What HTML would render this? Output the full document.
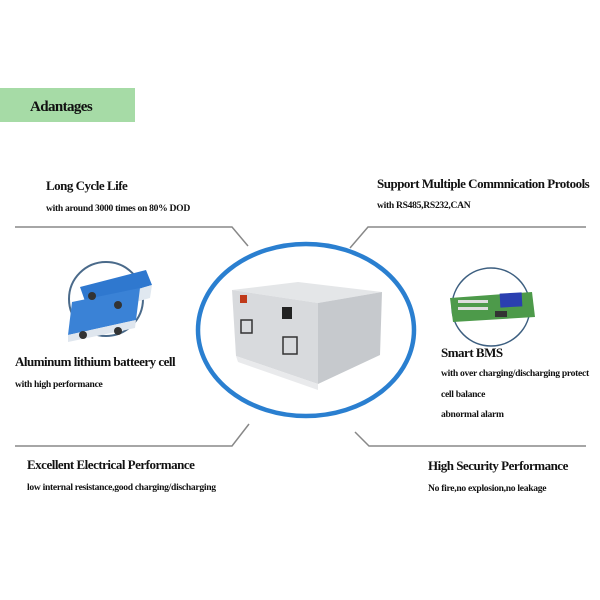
<!DOCTYPE html>
<html><head><meta charset="utf-8"><style>
html,body{margin:0;padding:0;background:#fff;}
svg{display:block}
text{font-family:"Liberation Serif",serif;font-weight:bold;fill:#111;}
.h{font-size:13px;letter-spacing:-0.5px}
.s{font-size:9.6px;letter-spacing:-0.3px}
</style></head><body>
<svg width="600" height="600" viewBox="0 0 600 600" xmlns="http://www.w3.org/2000/svg">
<rect width="600" height="600" fill="#fff"/>
<rect x="0" y="88" width="135" height="34" fill="#a6dba6"/>
<text x="30" y="111" style="font-size:15px;letter-spacing:-0.6px">Adantages</text>

<text class="h" x="46" y="190">Long Cycle Life</text>
<text class="s" x="46" y="211">with around 3000 times on 80% DOD</text>
<polyline points="15,227 232,227 248,246" fill="none" stroke="#888" stroke-width="1.5"/>

<text class="h" x="377" y="188">Support Multiple Commnication Protools</text>
<text class="s" x="377" y="208">with RS485,RS232,CAN</text>
<polyline points="350,248 368,227 586,227" fill="none" stroke="#888" stroke-width="1.5"/>

<polyline points="249,424 232,446 15,446" fill="none" stroke="#888" stroke-width="1.5"/>
<text class="h" x="27" y="469">Excellent Electrical Performance</text>
<text class="s" x="27" y="490">low internal resistance,good charging/discharging</text>

<polyline points="355,432 369,446 586,446" fill="none" stroke="#888" stroke-width="1.5"/>
<text class="h" x="428" y="470">High Security Performance</text>
<text class="s" x="428" y="491">No fire,no explosion,no leakage</text>

<!-- cell image -->
<circle cx="106" cy="299" r="37" fill="#fff" stroke="#4a6a8a" stroke-width="2"/>
<polygon points="80,287 146,270 152,285 86,304" fill="#2f78cf"/>
<polygon points="86,304 152,285 150,298 85,316" fill="#e0e8f0"/>
<polygon points="72,302 140,288 136,320 68,335" fill="#3a82d6"/>
<polygon points="68,335 136,320 135,328 68,342" fill="#dfe6ee"/>
<circle cx="92" cy="296" r="4" fill="#333"/><circle cx="118" cy="305" r="4" fill="#333"/>
<circle cx="83" cy="335" r="4" fill="#333"/><circle cx="118" cy="331" r="4" fill="#333"/>
<text class="h" x="15" y="366">Aluminum lithium batteery cell</text>
<text class="s" x="15" y="387">with high performance</text>

<!-- BMS -->
<circle cx="491" cy="307" r="39" fill="#fff" stroke="#3d5f80" stroke-width="1.5"/>
<polygon points="450,298 532,292 535,317 453,322" fill="#4d9a4a"/>
<rect x="500" y="293" width="22" height="14" fill="#2a3fb0" transform="rotate(-3 511 300)"/>
<rect x="458" y="300" width="30" height="3" fill="#ddd"/>
<rect x="458" y="307" width="30" height="3" fill="#ddd"/>
<rect x="495" y="311" width="12" height="6" fill="#333"/>
<text class="h" x="441" y="357">Smart BMS</text>
<text class="s" x="441" y="376">with over charging/discharging protect</text>
<text class="s" x="441" y="397">cell balance</text>
<text class="s" x="441" y="417">abnormal alarm</text>

<!-- central battery -->
<ellipse cx="306" cy="330" rx="108" ry="86" fill="#fff" stroke="#2a7fd0" stroke-width="4.5"/>
<polygon points="232,290 298,282 382,292 318,303" fill="#e4e6e8"/>
<polygon points="232,290 318,303 318,384 236,356" fill="#d8dadd"/>
<polygon points="318,303 382,292 380,355 318,384" fill="#c6c9cd"/>
<polygon points="236,356 318,384 318,390 238,362" fill="#e9eaec"/>
<rect x="240" y="295" width="7" height="8" fill="#c03a1a"/>
<rect x="282" y="307" width="10" height="12" fill="#222"/>
<rect x="241" y="320" width="11" height="13" fill="none" stroke="#333" stroke-width="1.5"/>
<rect x="283" y="337" width="14" height="17" fill="none" stroke="#333" stroke-width="1.5"/>
</svg>
</body></html>
